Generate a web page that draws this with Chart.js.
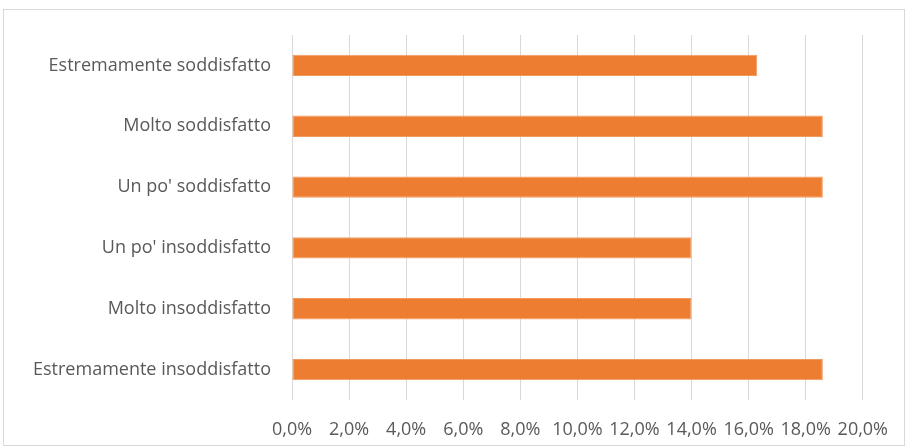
<!DOCTYPE html>
<html>
<head>
<meta charset="utf-8">
<script src="https://cdn.jsdelivr.net/npm/chart.js@4"></script>
<style>
  html, body { margin: 0; padding: 0; background: #fff; }
  #wrap { position: relative; width: 907px; height: 448px; }
</style>
</head>
<body>
<div id="wrap"><canvas id="chart" width="907" height="448"></canvas></div>
<script>
const categories = [
    "Estremamente soddisfatto",
    "Molto soddisfatto",
    "Un po' soddisfatto",
    "Un po' insoddisfatto",
    "Molto insoddisfatto",
    "Estremamente insoddisfatto"
];
const percentages = [16.3, 18.6, 18.6, 14.0, 14.0, 18.6];
const axisMax = 20;
const axisStep = 2;

const frame = {
    id: 'frame',
    beforeDraw(chart) {
        const c = chart.ctx;
        c.save();
        c.strokeStyle = '#d9d9d9';
        c.lineWidth = 1;
        c.strokeRect(3.5, 9.5, 901, 436);
        c.restore();
    }
};

const ctx = document.getElementById('chart').getContext('2d');
new Chart(ctx, {
    type: 'bar',
    data: {
        labels: categories,
        datasets: [{
            data: percentages,
            backgroundColor: '#ed7d31',
            borderColor: '#f19a5f',
            borderWidth: 1,
            borderSkipped: false,
            categoryPercentage: 1,
            barPercentage: 0.35
        }]
    },
    options: {
        indexAxis: 'y',
        responsive: false,
        animation: false,
        layout: { padding: { top: 35, right: 42, bottom: 0, left: 0 } },
        plugins: {
            legend: { display: false },
            tooltip: { enabled: false }
        },
        scales: {
            x: {
                min: 0,
                max: axisMax,
                afterFit(scale) { scale.height = 48; },
                grid: { color: '#d9d9d9', drawTicks: false },
                border: { display: false },
                ticks: {
                    stepSize: axisStep,
                    padding: 19,
                    color: '#595959',
                    font: { family: 'Open Sans', size: 18 },
                    callback: v => v.toFixed(1).replace('.', ',') + '%'
                }
            },
            y: {
                afterFit(scale) { scale.width = 292; },
                grid: { display: false, drawTicks: false },
                border: { display: false },
                ticks: {
                    padding: 21,
                    color: '#595959',
                    font: { family: 'Open Sans', size: 18 }
                }
            }
        }
    },
    plugins: [frame]
});
</script>
</body>
</html>
